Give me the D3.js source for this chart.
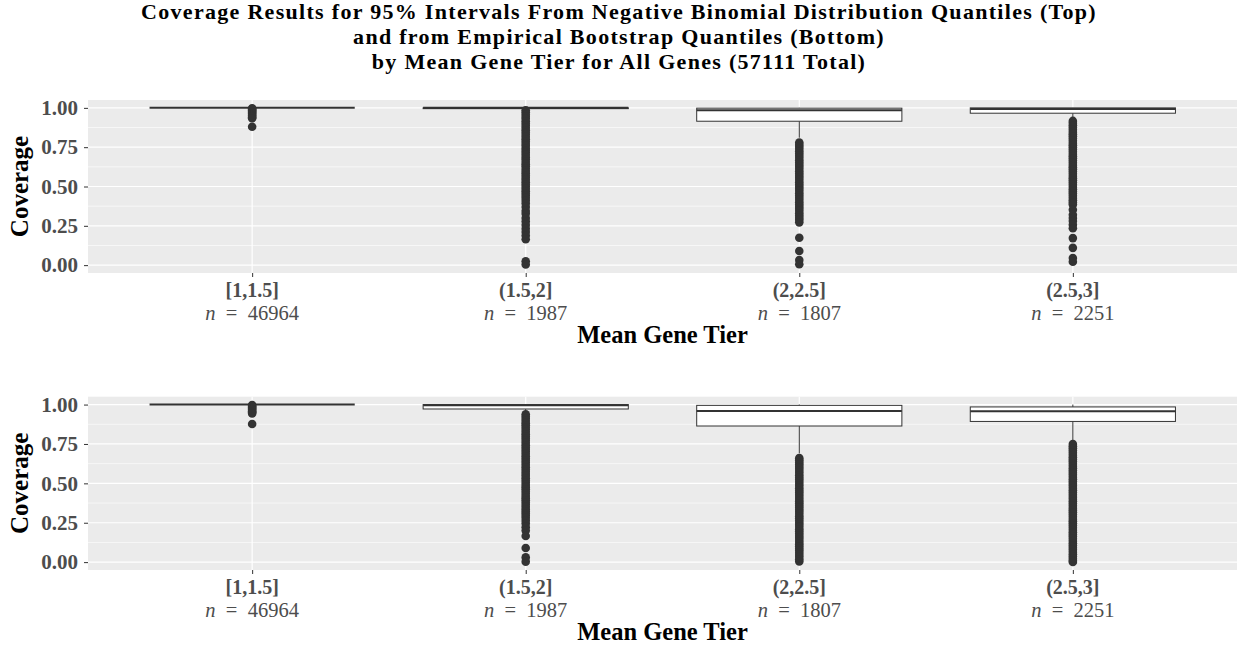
<!DOCTYPE html>
<html>
<head>
<meta charset="utf-8">
<script src="https://cdn.jsdelivr.net/npm/d3@7"></script>
<style>
  body { margin: 0; background: #fff; }
</style>
</head>
<body>
<div id="chart"></div>
<script>
const tiers = ["[1,1.5]", "(1.5,2]", "(2,2.5]", "(2.5,3]"];
const tierCounts = [46964, 1987, 1807, 2251];
const yTicks = [0, 0.25, 0.5, 0.75, 1];
const yMinor = [0.125, 0.375, 0.625, 0.875];

const titleLines = [
  "Coverage Results for 95% Intervals From Negative Binomial Distribution Quantiles (Top)",
  "and from Empirical Bootstrap Quantiles (Bottom)",
  "by Mean Gene Tier for All Genes (57111 Total)"
];

// top panel: negative binomial quantiles
const nbWhiskerLow = [1, 0.99, 0.81, 0.93];
const nbQ1 = [1, 0.995, 0.915, 0.966];
const nbMedian = [1, 1, 0.985, 0.993];
const nbQ3 = [1, 1, 0.998, 1];
const nbWhiskerHigh = [1, 1, 1, 1];
const nbOutliers = [
  [0.998, 0.993, 0.987, 0.981, 0.975, 0.969, 0.962, 0.955, 0.948, 0.941, 0.934, 0.88],
  [0.985, 0.972, 0.958, 0.944, 0.93, 0.915, 0.901, 0.886, 0.872, 0.857, 0.843, 0.829, 0.814, 0.8,
   0.786, 0.771, 0.757, 0.742, 0.728, 0.714, 0.7, 0.685, 0.671, 0.656, 0.642, 0.628, 0.613, 0.599,
   0.585, 0.57, 0.556, 0.542, 0.527, 0.513, 0.499, 0.484, 0.47, 0.456, 0.441, 0.427, 0.41, 0.392,
   0.37, 0.345, 0.326, 0.3, 0.278, 0.255, 0.232, 0.21, 0.188, 0.165, 0.025, 0.004],
  [0.78, 0.766, 0.752, 0.738, 0.724, 0.71, 0.696, 0.681, 0.667, 0.653, 0.639, 0.625, 0.611, 0.597,
   0.583, 0.569, 0.555, 0.541, 0.527, 0.513, 0.499, 0.485, 0.471, 0.457, 0.443, 0.429, 0.414, 0.4,
   0.386, 0.372, 0.358, 0.344, 0.33, 0.316, 0.302, 0.288, 0.272, 0.174, 0.09, 0.032, 0.006],
  [0.917, 0.903, 0.889, 0.875, 0.861, 0.847, 0.833, 0.819, 0.805, 0.791, 0.777, 0.763, 0.749, 0.735,
   0.721, 0.707, 0.693, 0.679, 0.665, 0.651, 0.637, 0.623, 0.609, 0.595, 0.581, 0.567, 0.553, 0.539,
   0.525, 0.511, 0.497, 0.483, 0.469, 0.455, 0.441, 0.427, 0.413, 0.399, 0.385, 0.352, 0.32, 0.3,
   0.28, 0.256, 0.235, 0.172, 0.11, 0.045, 0.022]
];

// bottom panel: empirical bootstrap quantiles
const bsWhiskerLow = [1, 0.95, 0.69, 0.77];
const bsQ1 = [1, 0.972, 0.864, 0.893];
const bsMedian = [1, 0.995, 0.96, 0.957];
const bsQ3 = [1, 1, 0.995, 0.985];
const bsWhiskerHigh = [1, 1, 1, 1];
const bsOutliers = [
  [0.997, 0.991, 0.985, 0.979, 0.972, 0.965, 0.958, 0.951, 0.944, 0.877],
  [0.938, 0.924, 0.91, 0.896, 0.882, 0.868, 0.854, 0.84, 0.826, 0.812, 0.798, 0.784, 0.77, 0.756,
   0.742, 0.728, 0.714, 0.7, 0.686, 0.672, 0.658, 0.644, 0.63, 0.616, 0.602, 0.588, 0.574, 0.56,
   0.546, 0.532, 0.518, 0.504, 0.49, 0.476, 0.462, 0.448, 0.434, 0.42, 0.406, 0.392, 0.378, 0.364,
   0.35, 0.336, 0.322, 0.308, 0.294, 0.28, 0.263, 0.245, 0.222, 0.2, 0.166, 0.09, 0.03, 0.003],
  [0.66, 0.647, 0.633, 0.619, 0.606, 0.592, 0.578, 0.565, 0.551, 0.537, 0.524, 0.51, 0.496, 0.483,
   0.469, 0.455, 0.442, 0.428, 0.414, 0.401, 0.387, 0.373, 0.36, 0.346, 0.332, 0.319, 0.305, 0.291,
   0.278, 0.264, 0.25, 0.237, 0.223, 0.209, 0.196, 0.182, 0.168, 0.155, 0.141, 0.127, 0.114, 0.1,
   0.086, 0.073, 0.059, 0.045, 0.032, 0.018, 0.004],
  [0.75, 0.736, 0.722, 0.708, 0.694, 0.68, 0.666, 0.652, 0.638, 0.624, 0.61, 0.596, 0.582, 0.568,
   0.554, 0.54, 0.526, 0.512, 0.498, 0.484, 0.47, 0.456, 0.442, 0.428, 0.414, 0.4, 0.386, 0.372,
   0.358, 0.344, 0.33, 0.316, 0.302, 0.288, 0.274, 0.26, 0.246, 0.232, 0.218, 0.204, 0.19, 0.176,
   0.162, 0.148, 0.134, 0.12, 0.106, 0.092, 0.078, 0.064, 0.05, 0.036, 0.022, 0.008, 0.001]
];

const svgWidth = 1239;
const svgHeight = 648;
const plotLeft = 88;
const plotRight = 1237;
const serif = "'Liberation Serif', 'Times New Roman', serif";
const dark = "#333333";
const tickText = "#4d4d4d";

const svg = d3.select("#chart")
  .append("svg")
  .attr("width", svgWidth)
  .attr("height", svgHeight)
  .style("font-family", serif);

// title
svg.append("g")
  .selectAll("text")
  .data(titleLines)
  .join("text")
  .attr("x", 619)
  .attr("y", (d, i) => 19 + i * 24.8)
  .attr("text-anchor", "middle")
  .attr("font-size", "22px")
  .attr("font-weight", "bold")
  .attr("letter-spacing", "1.3px")
  .attr("fill", "#000")
  .text(d => d);

const x = d3.scalePoint()
  .domain(tiers)
  .range([plotLeft, plotRight])
  .padding(0.6);

const boxWidth = x.step() * 0.75;

function buildStats(low, q1, med, q3, high, outliers) {
  return tiers.map((t, i) => ({
    tier: t, low: low[i], q1: q1[i], median: med[i], q3: q3[i], high: high[i], outliers: outliers[i]
  }));
}

const panels = [
  { top: 100, bottom: 273, stats: buildStats(nbWhiskerLow, nbQ1, nbMedian, nbQ3, nbWhiskerHigh, nbOutliers) },
  { top: 396.7, bottom: 570, stats: buildStats(bsWhiskerLow, bsQ1, bsMedian, bsQ3, bsWhiskerHigh, bsOutliers) }
];

panels.forEach(p => {
  const y = d3.scaleLinear()
    .domain([-0.05, 1.05])
    .range([p.bottom, p.top]);

  const g = svg.append("g");

  // panel background
  g.append("rect")
    .attr("x", plotLeft)
    .attr("y", p.top)
    .attr("width", plotRight - plotLeft)
    .attr("height", p.bottom - p.top)
    .attr("fill", "#ebebeb");

  // grid
  g.append("g")
    .selectAll("line")
    .data(yMinor)
    .join("line")
    .attr("x1", plotLeft).attr("x2", plotRight)
    .attr("y1", d => y(d)).attr("y2", d => y(d))
    .attr("stroke", "#fff")
    .attr("stroke-width", 0.6);

  g.append("g")
    .selectAll("line")
    .data(yTicks)
    .join("line")
    .attr("x1", plotLeft).attr("x2", plotRight)
    .attr("y1", d => y(d)).attr("y2", d => y(d))
    .attr("stroke", "#fff")
    .attr("stroke-width", 1.2);

  g.append("g")
    .selectAll("line")
    .data(tiers)
    .join("line")
    .attr("x1", d => x(d)).attr("x2", d => x(d))
    .attr("y1", p.top).attr("y2", p.bottom)
    .attr("stroke", "#fff")
    .attr("stroke-width", 1.2);

  // axes
  svg.append("g")
    .attr("transform", `translate(${plotLeft},0)`)
    .call(d3.axisLeft(y).tickValues(yTicks).tickFormat(d3.format(".2f")).tickSize(4).tickPadding(6))
    .call(a => a.select(".domain").remove())
    .call(a => a.selectAll("line").attr("stroke", dark).attr("stroke-width", 1))
    .call(a => a.selectAll("text")
      .attr("font-family", serif)
      .attr("font-size", "21px")
      .attr("font-weight", "bold")
      .attr("fill", tickText));

  const xAxis = svg.append("g")
    .attr("transform", `translate(0,${p.bottom})`)
    .call(d3.axisBottom(x).tickSize(4).tickFormat(""))
    .call(a => a.select(".domain").remove())
    .call(a => a.selectAll("line").attr("stroke", dark).attr("stroke-width", 1));

  xAxis.selectAll(".tick text").remove();

  const labels = svg.append("g")
    .selectAll("g")
    .data(tiers)
    .join("g")
    .attr("transform", d => `translate(${x(d)},${p.bottom})`)
    .attr("fill", tickText)
    .attr("text-anchor", "middle");

  labels.append("text")
    .attr("y", 23.5)
    .attr("font-size", "20px")
    .attr("font-weight", "bold")
    .text(d => d);

  const nLabel = labels.append("text")
    .attr("y", 47)
    .attr("font-size", "20.5px");
  nLabel.append("tspan").attr("font-style", "italic").text("n");
  nLabel.append("tspan").text((d, i) => "\u2002=\u2002" + tierCounts[i]);

  svg.append("text")
    .attr("x", (plotLeft + plotRight) / 2)
    .attr("y", p.bottom + 70)
    .attr("text-anchor", "middle")
    .attr("font-size", "24.5px")
    .attr("font-weight", "bold")
    .attr("fill", "#000")
    .text("Mean Gene Tier");

  svg.append("text")
    .attr("transform", `translate(28,${(p.top + p.bottom) / 2}) rotate(-90)`)
    .attr("text-anchor", "middle")
    .attr("font-size", "25px")
    .attr("font-weight", "bold")
    .attr("fill", "#000")
    .text("Coverage");

  // boxes
  const boxes = g.append("g")
    .selectAll("g")
    .data(p.stats)
    .join("g");

  boxes.append("line")
    .attr("x1", d => x(d.tier)).attr("x2", d => x(d.tier))
    .attr("y1", d => y(d.q1)).attr("y2", d => y(d.low))
    .attr("stroke", dark)
    .attr("stroke-width", 1);

  boxes.append("line")
    .attr("x1", d => x(d.tier)).attr("x2", d => x(d.tier))
    .attr("y1", d => y(d.q3)).attr("y2", d => y(d.high))
    .attr("stroke", dark)
    .attr("stroke-width", 1);

  boxes.append("rect")
    .attr("x", d => x(d.tier) - boxWidth / 2)
    .attr("width", boxWidth)
    .attr("y", d => y(d.q3))
    .attr("height", d => y(d.q1) - y(d.q3))
    .attr("fill", "#fff")
    .attr("stroke", dark)
    .attr("stroke-width", 1);

  boxes.append("line")
    .attr("x1", d => x(d.tier) - boxWidth / 2)
    .attr("x2", d => x(d.tier) + boxWidth / 2)
    .attr("y1", d => y(d.median)).attr("y2", d => y(d.median))
    .attr("stroke", dark)
    .attr("stroke-width", 2);

  // outliers
  boxes.each(function (d) {
    d3.select(this).selectAll("circle")
      .data(d.outliers)
      .join("circle")
      .attr("cx", x(d.tier))
      .attr("cy", v => y(v))
      .attr("r", 4.3)
      .attr("fill", dark);
  });
});
</script>
</body>
</html>
